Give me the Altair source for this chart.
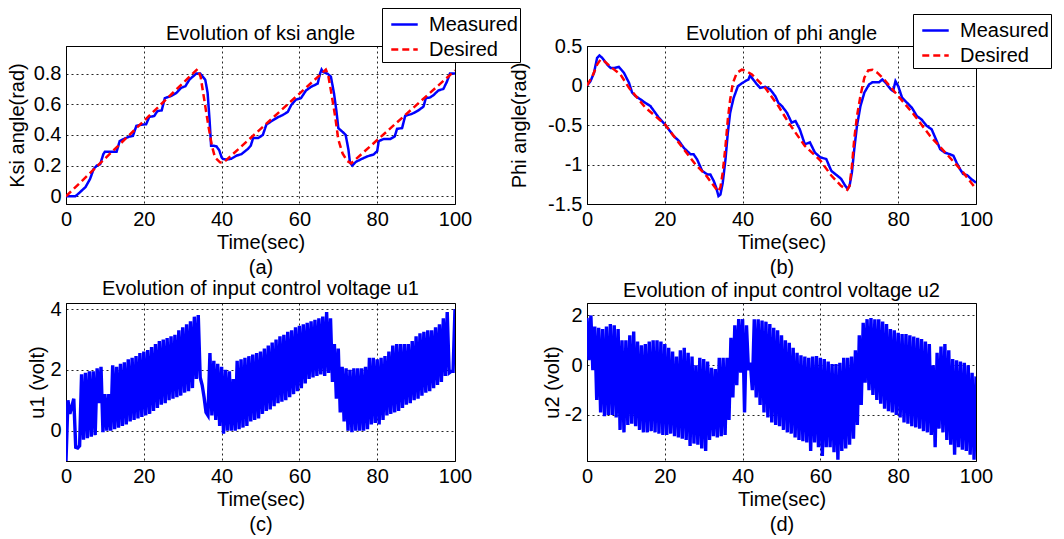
import altair as alt
import pandas as pd

FONT = "Liberation Sans"
BLUE = "#0000ff"
RED = "#ff0000"

# ---------------- (a) ksi angle ----------------
ksi_des_t = [0, 33.8, 34.6, 35.4, 36.6, 37.5, 38.3, 39.6, 40.5, 66.8, 67.4, 68.1, 69.2, 70.0,
             71.1, 72.3, 73.3, 100]
ksi_des_v = [0, 0.83, 0.78, 0.653, 0.459, 0.33, 0.254, 0.222, 0.22, 0.826, 0.79, 0.69, 0.52, 0.37,
             0.28, 0.23, 0.215, 0.82]
ksi_meas_t = [0, 2.4, 3.3, 5.0, 6.2, 7.1, 7.9, 8.8, 9.6, 10.0, 13.0, 13.8, 15.1, 16.4, 17.2, 18.1,
              18.9, 20.6, 21.4, 22.7, 23.5, 24.6, 25.4, 26.9, 28.4, 29.6, 30.7, 31.7, 32.7, 33.5,
              34.5, 35.8, 36.4, 36.9, 37.3, 37.9, 38.7, 39.4, 40.0, 40.4, 41.4, 42.5, 43.8, 45.1,
              46.8, 47.5, 48.1, 49.4, 50.6, 51.5, 52.8, 54.5, 55.7, 57.0, 57.9, 59.1, 60.4, 61.7,
              63.0, 64.7, 65.3, 65.7, 66.1, 67.2, 68.1, 68.9, 69.5, 70.0, 71.1, 71.9, 72.6, 73.0,
              73.6, 74.5, 75.7, 77.4, 79.1, 80.0, 80.4, 81.7, 83.4, 84.5, 85.1, 86.4, 87.2, 88.9,
              90.6, 91.9, 92.5, 93.6, 94.5, 95.7, 97.0, 97.9, 98.7, 100]
ksi_meas_v = [0, 0, 0.02, 0.06, 0.114, 0.178, 0.2, 0.21, 0.275, 0.29, 0.29, 0.36, 0.377, 0.39, 0.394,
              0.46, 0.465, 0.47, 0.517, 0.524, 0.556, 0.56, 0.64, 0.653, 0.675, 0.707, 0.718, 0.76,
              0.783, 0.80, 0.80, 0.76, 0.675, 0.50, 0.33, 0.33, 0.325, 0.30, 0.254, 0.243, 0.24,
              0.245, 0.265, 0.275, 0.31, 0.33, 0.38, 0.38, 0.40, 0.467, 0.49, 0.516, 0.53, 0.55,
              0.595, 0.63, 0.64, 0.69, 0.714, 0.735, 0.80, 0.826, 0.81, 0.80, 0.78, 0.67, 0.56,
              0.445, 0.42, 0.40, 0.305, 0.22, 0.20, 0.224, 0.24, 0.26, 0.273, 0.295, 0.36, 0.374,
              0.374, 0.39, 0.44, 0.445, 0.525, 0.537, 0.56, 0.585, 0.64, 0.645, 0.66, 0.69, 0.70,
              0.746, 0.80, 0.80]

# ---------------- (b) phi angle ----------------
phi_des_t = [0, 1.4, 2.6, 3.5, 4.4, 6.5, 8.6, 10.8, 15.0, 20, 23.6, 27.9, 30.4, 32.6, 33.7, 34.3,
             34.9, 35.6, 36.2, 36.8, 37.5, 38.5, 39.8, 40.7, 42.4, 44.1, 45.8, 49.2, 51.8, 56.0,
             60, 62.8, 65.3, 66.9, 67.5, 68.1, 68.7, 69.4, 70.3, 71.3, 72.3, 73.4, 74.7, 76.4,
             80, 84.0, 88.2, 92.5, 96.7, 100]
phi_des_v = [0, 0.118, 0.265, 0.33, 0.31, 0.22, 0.14, -0.03, -0.28, -0.49, -0.725, -1.0, -1.125,
             -1.27, -1.34, -1.29, -1.10, -0.77, -0.43, -0.18, 0.03, 0.16, 0.2, 0.19, 0.14, 0.055,
             -0.03, -0.26, -0.47, -0.765, -0.95, -1.14, -1.27, -1.32, -1.27, -1.02, -0.68, -0.39,
             -0.13, 0.1, 0.19, 0.2, 0.16, 0.076, -0.134, -0.366, -0.64, -0.87, -1.10, -1.31]
phi_meas_t = [0, 0.9, 1.8, 2.6, 3.2, 3.9, 5.2, 6.1, 6.9, 8.2, 9.5, 10.8, 11.6, 12.5, 13.8, 15.0,
              16.3, 18.5, 20, 22.3, 23.6, 24.9, 26.6, 27.4, 28.3, 29.6, 30.9, 31.7, 32.6, 33.2,
              33.8, 34.3, 34.9, 35.6, 36.2, 36.8, 37.7, 38.8, 40, 40.7, 41.5, 41.9, 42.6, 43.7,
              44.5, 45.8, 47.1, 48.4, 49.2, 50.1, 51.4, 52.6, 53.6, 54.7, 56.0, 57.3, 58.6, 60,
              61.5, 62.8, 64.3, 65.3, 66.4, 67.0, 67.5, 68.1, 68.7, 69.4, 70.3, 71.3, 72.5, 73.4,
              75.1, 75.9, 76.8, 78.1, 78.7, 79.3, 80, 81.0, 82.3, 83.5, 84.8, 86.0, 87.3, 88.6,
              89.7, 90.8, 92.0, 93.3, 94.2, 95.0, 95.9, 96.7, 97.7, 98.8, 100]
phi_meas_v = [0, 0.055, 0.16, 0.35, 0.38, 0.35, 0.265, 0.22, 0.22, 0.236, 0.16, 0.034, -0.09,
              -0.135, -0.177, -0.22, -0.26, -0.41, -0.49, -0.64, -0.70, -0.79, -0.87, -0.87,
              -0.935, -1.08, -1.125, -1.125, -1.21, -1.29, -1.40, -1.38, -1.23, -0.935, -0.6,
              -0.345, -0.156, -0.008, 0.034, 0.055, 0.076, 0.126, 0.084, 0.013, -0.03, -0.017,
              -0.05, -0.135, -0.22, -0.26, -0.345, -0.47, -0.45, -0.555, -0.744, -0.72, -0.85,
              -0.91, -0.93, -1.08, -1.14, -1.18, -1.27, -1.31, -1.27, -1.10, -0.81, -0.51, -0.26,
              -0.09, 0.013, 0.042, 0.042, 0.076, 0.034, -0.05, -0.07, 0.055, -0.008, -0.155, -0.22,
              -0.28, -0.387, -0.43, -0.51, -0.555, -0.68, -0.807, -0.85, -0.87, -0.89, -0.975,
              -1.06, -1.12, -1.134, -1.185, -1.23]

# ---------------- (c) u1, sampled every 0.5 s ----------------
u1_v = [
    -1.0, 1.0, 0.55, 0.8, 1.05, -0.55, -0.57, -0.5, 1.85, -0.3,
    1.9, -0.25, 1.95, -0.2, 1.95, -0.15, 2.05, 0.9, 2.1, -0.05,
    1.2, 0.0, 1.2, 0.0, 2.15, 0.05, 2.1, 0.1, 2.2, 0.15,
    2.25, 0.2, 2.35, 0.3, 2.4, 0.35, 2.45, 0.4, 2.55, 0.45,
    2.6, 0.5, 2.65, 0.55, 2.75, 0.65, 2.85, 0.75, 2.95, 0.85,
    3.0, 0.9, 3.05, 1.0, 3.1, 1.05, 3.15, 1.1, 3.3, 1.15,
    3.4, 1.25, 3.5, 1.3, 3.6, 1.4, 3.75, 1.7, 3.8, 1.75,
    1.5, 1.1, 0.6, 0.5, 2.55, 0.5, 2.3, 0.35, 2.2, 0.15,
    2.1, -0.1, 2.0, 0.0, 1.95, 0.0, 1.7, 0.0, 2.3, 0.05,
    2.35, 0.1, 2.4, 0.15, 2.45, 0.3, 2.5, 0.35, 2.55, 0.4,
    2.6, 0.55, 2.7, 0.65, 2.8, 0.7, 2.9, 0.8, 3.0, 0.9,
    3.1, 0.95, 3.15, 1.0, 3.25, 1.1, 3.3, 1.2, 3.4, 1.3,
    3.45, 1.4, 3.5, 1.55, 3.55, 1.7, 3.6, 1.75, 3.65, 1.8,
    3.7, 1.85, 3.75, 1.8, 3.9, 1.9, 3.7, 1.6, 2.85, 1.05,
    2.7, 0.6, 2.1, 0.3, 2.05, 0.0, 2.0, -0.05, 2.05, 0.0,
    2.05, 0.0, 2.05, 0.0, 2.1, 0.05, 2.4, 0.2, 2.4, 0.25,
    2.35, 0.2, 2.4, 0.35, 2.45, 0.5, 2.6, 0.55, 2.8, 0.6,
    2.85, 0.65, 2.85, 0.75, 2.85, 0.85, 2.85, 0.9, 2.95, 1.0,
    3.1, 1.05, 3.2, 1.15, 3.25, 1.25, 3.3, 1.3, 3.3, 1.4,
    3.4, 1.5, 3.5, 1.6, 3.7, 1.8, 3.9, 1.9, 1.95, 1.95,
    4.0,
]

# ---------------- (d) u2, sampled every 0.5 s ----------------
u2_v = [
    1.9, 0.2, 2.0, -0.2, 1.55, -1.4, 1.5, -1.9, 1.45, -2.05,
    1.55, -2.0, 1.65, -2.0, 1.6, -2.1, 1.45, -2.6, 1.0, -2.7,
    1.0, -2.4, 1.2, -2.35, 1.35, -2.45, 0.95, -2.6, 0.8, -2.7,
    0.85, -2.7, 0.95, -2.65, 1.0, -2.7, 1.0, -2.75, 0.95, -2.8,
    0.85, -2.8, 0.7, -2.75, 0.55, -2.85, 0.35, -2.9, 0.6, -2.95,
    0.7, -3.0, 0.5, -3.25, 0.35, -3.15, 0.0, -3.2, 0.3, -3.35,
    0.25, -3.45, 0.15, -3.0, -0.1, -2.85, -0.15, -2.9, 0.3, -2.85,
    0.3, -2.8, 0.3, -2.2, 1.1, -1.3, 1.6, -0.8, 1.85, -0.3,
    1.85, -1.9, 1.6, -0.2, 0.1, -1.0, 1.85, -1.3, 1.85, -1.6,
    1.8, -1.9, 1.75, -2.1, 1.65, -2.3, 1.5, -2.4, 1.4, -2.45,
    1.2, -2.6, 1.0, -2.7, 0.9, -2.75, 0.7, -2.9, 0.5, -3.0,
    0.4, -3.05, 0.35, -3.1, 0.3, -3.45, 0.35, -3.1, 0.37, -3.3,
    0.3, -3.65, 0.25, -3.3, 0.15, -3.3, 0.05, -3.5, 0.05, -3.8,
    0.1, -3.45, 0.3, -3.35, 0.3, -3.2, 0.35, -2.95, 0.6, -2.4,
    1.2, -1.6, 1.7, -0.7, 1.85, -1.0, 1.9, -1.2, 1.85, -1.4,
    1.85, -1.55, 1.75, -1.75, 1.65, -1.85, 1.45, -1.9, 1.4, -2.0,
    1.3, -2.1, 1.25, -2.3, 1.25, -2.35, 1.2, -2.45, 1.15, -2.5,
    1.1, -2.55, 1.05, -2.65, 0.95, -2.7, 0.85, -2.8, 0.0, -3.3,
    0.5, -2.55, 0.75, -2.7, 0.85, -3.0, 0.6, -3.2, 0.25, -3.6,
    0.2, -3.3, 0.15, -3.4, 0.1, -3.45, 0.0, -3.6, -0.3, -3.8,
    -0.45,
]
u_t = [i * 0.5 for i in range(len(u1_v))]

x_ticks = [0, 20, 40, 60, 80, 100]
series = ["Measured", "Desired"]

W, H = 389, 158


def x_enc(caption):
    return alt.X("t:Q", scale=alt.Scale(domain=[0, 100], nice=False, zero=False),
                 axis=alt.Axis(values=x_ticks, title=["Time(sec)", caption]))


def y_enc(domain, ticks, title, pad):
    return alt.Y("v:Q", scale=alt.Scale(domain=domain, nice=False, zero=False),
                 axis=alt.Axis(values=ticks, title=title, titlePadding=pad,
                               labelExpr="'' + datum.value"))


def panel_title(text, dy):
    return alt.TitleParams(text, frame="group", anchor="middle", baseline="alphabetic",
                           offset=6, dy=dy, fontSize=20, font=FONT, fontWeight="normal",
                           color="black")


def angle_panel(tm, vm, td, vd, title, ytitle, ydom, yticks, caption, lx, ly, pad, dy):
    dm = pd.DataFrame({"t": tm, "v": vm, "s": "Measured"})
    dd = pd.DataFrame({"t": td, "v": vd, "s": "Desired"})
    leg = alt.Legend(orient="none", legendX=lx, legendY=ly, title=None, symbolType="stroke",
                     symbolSize=700, symbolStrokeWidth=2.5, labelFontSize=20, labelFont=FONT,
                     labelColor="black", strokeColor="black", fillColor="white", padding=2,
                     symbolOffset=6, labelOffset=10, rowPadding=0,
                     labelExpr="datum.label + '  '")
    color = alt.Color("s:N", scale=alt.Scale(domain=series, range=[BLUE, RED]), legend=leg)
    dash = alt.StrokeDash("s:N", scale=alt.Scale(domain=series, range=[[1, 0], [7, 4]]), legend=leg)
    enc = dict(x=x_enc(caption), y=y_enc(ydom, yticks, ytitle, pad), color=color, strokeDash=dash)
    l1 = alt.Chart(dm).mark_line(strokeWidth=2.5, clip=True).encode(**enc)
    l2 = alt.Chart(dd).mark_line(strokeWidth=2.5, clip=True).encode(**enc)
    return alt.layer(l1, l2).properties(width=W, height=H, title=panel_title(title, dy))


def volt_panel(vals, title, ytitle, ydom, yticks, caption, pad, dy):
    df = pd.DataFrame({"t": u_t, "v": vals})
    return alt.Chart(df).mark_line(color=BLUE, strokeWidth=3.4, clip=True).encode(
        x=x_enc(caption), y=y_enc(ydom, yticks, ytitle, pad)
    ).properties(width=W, height=H, title=panel_title(title, dy))


pa = angle_panel(ksi_meas_t, ksi_meas_v, ksi_des_t, ksi_des_v, "Evolution of ksi angle",
                 "Ksi angle(rad)", [-0.05, 0.98], [0, 0.2, 0.4, 0.6, 0.8], "(a)", 316, -38, 6, 58)
pb = angle_panel(phi_meas_t, phi_meas_v, phi_des_t, phi_des_v, "Evolution of phi angle",
                 "Phi angle(rad)", [-1.5, 0.5], [-1.5, -1, -0.5, 0, 0.5], "(b)", 326, -32, 18, 52)
pc = volt_panel(u1_v, "Evolution of input control voltage u1", "u1 (volt)", [-1.0, 4.2],
                [0, 2, 4], "(c)", 2, 22)
pd_ = volt_panel(u2_v, "Evolution of input control voltage u2", "u2 (volt)", [-3.85, 2.5],
                 [-2, 0, 2], "(d)", 2, 20)

chart = alt.concat(
    pa, pb, pc, pd_, columns=2, spacing={"row": 99, "column": 132}, bounds="flush"
).resolve_scale(
    color="independent", strokeDash="independent"
).resolve_legend(
    color="independent", strokeDash="independent"
).properties(
    padding={"left": 6, "top": 7, "right": 5, "bottom": 5},
    background="white",
).configure_view(
    stroke="black", strokeWidth=1
).configure_axis(
    labelFont=FONT, titleFont=FONT, labelFontSize=20, titleFontSize=20,
    titleFontWeight="normal", labelColor="black", titleColor="black",
    domainColor="black", domainWidth=1, ticks=False, labelPadding=5,
    grid=True, gridColor="black", gridDash=[2, 3], gridWidth=1, gridOpacity=0.85,
    labelFlush=False, labelOverlap=False, titleLineHeight=25,
).configure_axisX(titlePadding=3, labelPadding=5)

chart.save("out.html", embed_options={"renderer": "svg", "actions": False})
